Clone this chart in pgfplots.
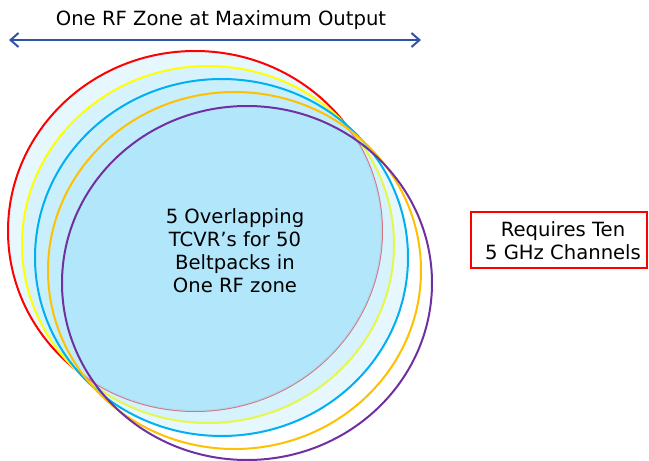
\documentclass[border=0pt]{standalone}
\usepackage{pgfplots}
\pgfplotsset{compat=1.18}
\usepackage{fontspec}
\setmainfont{DejaVu Sans}
\usetikzlibrary{arrows.meta}
\definecolor{cRed}{HTML}{FF0000}
\definecolor{cYel}{HTML}{FFFF00}
\definecolor{cBlu}{HTML}{00B0F0}
\definecolor{cOra}{HTML}{FFC000}
\definecolor{cPur}{HTML}{7030A0}
\definecolor{cFill}{HTML}{AEE6FB}
\definecolor{cArrow}{HTML}{2F52A6}
\begin{document}
\begin{tikzpicture}
\begin{axis}[hide axis, x=0.5pt, y=0.5pt, xmin=0, xmax=649, ymin=0, ymax=461,
  y dir=reverse, clip=false, axis line style={draw=none}]
\path (axis cs:0,0) rectangle (axis cs:649,461);
% red
\fill[cFill, fill opacity=0.3] (axis cs:195,231) ellipse [x radius=187, y radius=180];
\draw[cRed, line width=1pt] (axis cs:195,231) ellipse [x radius=187, y radius=180];
% yellow
\fill[cFill, fill opacity=0.3] (axis cs:208,244.5) ellipse [x radius=186, y radius=178.5];
\draw[cYel, line width=1pt] (axis cs:208,244.5) ellipse [x radius=186, y radius=178.5];
% blue
\fill[cFill, fill opacity=0.3] (axis cs:221.5,257.5) ellipse [x radius=186.5, y radius=178.5];
\draw[cBlu, line width=1pt] (axis cs:221.5,257.5) ellipse [x radius=186.5, y radius=178.5];
% orange region within red
\begin{scope}
\clip (axis cs:195,231) ellipse [x radius=187, y radius=180];
\fill[cFill, fill opacity=0.3] (axis cs:234.5,270.5) ellipse [x radius=186.5, y radius=178.5];
\end{scope}
% lens
\begin{scope}
\clip (axis cs:195,231) ellipse [x radius=187, y radius=180];
\fill[cFill, fill opacity=0.8] (axis cs:247,283) ellipse [x radius=185, y radius=177];
\end{scope}
\draw[cOra, line width=1pt] (axis cs:234.5,270.5) ellipse [x radius=186.5, y radius=178.5];
\draw[cPur, line width=1pt] (axis cs:247,283) ellipse [x radius=185, y radius=177];
% arrow
\draw[cArrow, line width=1pt, {Straight Barb[length=4pt,width=7pt]}-{Straight Barb[length=4pt,width=7pt]}] (axis cs:9,40) -- (axis cs:421,40);
\node[font=\fontsize{9.8}{11.5}\selectfont, text=black] at (axis cs:221,20) {One RF Zone at Maximum Output};
\node[font=\fontsize{9.8}{11.5}\selectfont, align=center, text=black] at (axis cs:235,251) {5 Overlapping\\TCVR’s for 50\\Beltpacks in\\One RF zone};
\draw[cRed, line width=0.9pt] (axis cs:471,212) rectangle (axis cs:647,268);
\node[font=\fontsize{9.8}{11.5}\selectfont, align=center, text=black] at (axis cs:563,240.5) {Requires Ten\\5 GHz Channels};
\end{axis}
\end{tikzpicture}
\end{document}
